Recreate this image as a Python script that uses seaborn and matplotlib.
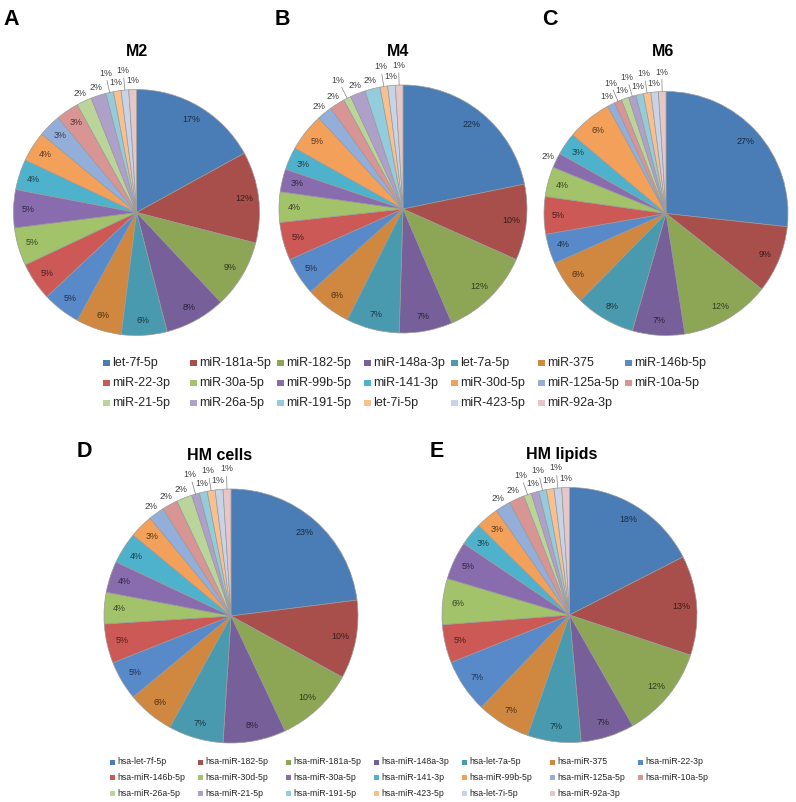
import numpy as np
import matplotlib.pyplot as plt
import seaborn as sns
from matplotlib.patches import Rectangle
from matplotlib.lines import Line2D

sns.set_theme(style='white')
plt.rcParams['font.family'] = ['Liberation Sans', 'DejaVu Sans']

# --- data (percent of reads) ---
mirs_top = ['let-7f-5p', 'miR-181a-5p', 'miR-182-5p', 'miR-148a-3p', 'let-7a-5p',
            'miR-375', 'miR-146b-5p', 'miR-22-3p', 'miR-30a-5p', 'miR-99b-5p',
            'miR-141-3p', 'miR-30d-5p', 'miR-125a-5p', 'miR-10a-5p', 'miR-21-5p',
            'miR-26a-5p', 'miR-191-5p', 'let-7i-5p', 'miR-423-5p', 'miR-92a-3p']
m2 = [17, 12, 9, 8, 6, 6, 5, 5, 5, 5, 4, 4, 3, 3, 2, 2, 1, 1, 1, 1]
m4 = [22, 10, 12, 7, 7, 6, 5, 5, 4, 3, 3, 5, 2, 2, 1, 2, 2, 1, 1, 1]
m6 = [27, 9, 12, 7, 8, 6, 4, 5, 4, 2, 3, 6, 1, 1, 1, 1, 1, 1, 1, 1]

mirs_hm = ['hsa-let-7f-5p', 'hsa-miR-182-5p', 'hsa-miR-181a-5p', 'hsa-miR-148a-3p',
           'hsa-let-7a-5p', 'hsa-miR-375', 'hsa-miR-22-3p', 'hsa-miR-146b-5p',
           'hsa-miR-30d-5p', 'hsa-miR-30a-5p', 'hsa-miR-141-3p', 'hsa-miR-99b-5p',
           'hsa-miR-125a-5p', 'hsa-miR-10a-5p', 'hsa-miR-26a-5p', 'hsa-miR-21-5p',
           'hsa-miR-191-5p', 'hsa-miR-423-5p', 'hsa-let-7i-5p', 'hsa-miR-92a-3p']
hm_cells = [23, 10, 10, 8, 7, 6, 5, 5, 4, 4, 4, 3, 2, 2, 2, 1, 1, 1, 1, 1]
hm_lipids = [18, 13, 12, 7, 7, 7, 7, 5, 6, 5, 3, 3, 2, 2, 1, 1, 1, 1, 1, 1]

palette = sns.color_palette(['#4A7CB6', '#A84E4B', '#8DA655', '#77609A', '#4A9AAF',
                             '#D0873F', '#588ACA', '#CD5956', '#A2C36A', '#886CAE',
                             '#4FB2CC', '#F2A05A', '#94AEDA', '#D99593', '#BBD49A',
                             '#AEA0C8', '#93CCDC', '#F9C08F', '#C6D3E8', '#E6C6C6'])

W, H = 796, 802
fig = plt.figure(figsize=(W / 100, H / 100), dpi=100)
fig.patch.set_facecolor('white')


def draw_pie(values, cx, cy, r, title, tx, ty, letter, lx, ly):
    pad = 1.35
    R = r * pad
    ax = fig.add_axes([(cx - R) / W, 1 - (cy + R) / H, 2 * R / W, 2 * R / H])
    ax.pie(values, colors=palette, startangle=90, counterclock=False,
           wedgeprops=dict(edgecolor='#9a9a9a', linewidth=0.5))
    ax.set_xlim(-pad, pad)
    ax.set_ylim(-pad, pad)
    ax.set_aspect('equal')
    ax.axis('off')

    total = float(sum(values))
    cum = np.cumsum([0] + list(values[:-1]))
    last = {0: -1e9, 1: -1e9}
    radii = {0: 1.07, 1: 1.16}
    sep = 6.0
    for v, c0, col in zip(values, cum, palette):
        mid = (c0 + v / 2) / total * 360
        if v >= 3:
            t = np.deg2rad(90 - mid)
            dark = tuple(0.35 * c for c in col)
            ax.text(0.88 * np.cos(t), 0.88 * np.sin(t), f'{v}%', ha='center',
                    va='center', fontsize=6.4, color=dark)
            continue
        if mid - last[0] >= sep:
            lev, ang = 0, mid
        elif mid - last[1] >= sep:
            lev, ang = 1, mid
        else:
            lev, ang = 0, last[0] + sep
        last[lev] = ang
        t = np.deg2rad(90 - ang)
        rr = radii[lev]
        ax.text(rr * np.cos(t), rr * np.sin(t), f'{v}%', ha='center', va='center',
                fontsize=6.4, color='#404040')
        if lev == 1 or abs(ang - mid) > 1:
            t0 = np.deg2rad(90 - mid)
            ax.add_line(Line2D([np.cos(t0), (rr - 0.06) * np.cos(t)],
                               [np.sin(t0), (rr - 0.06) * np.sin(t)],
                               color='#7f7f7f', lw=0.5))

    fig.text(tx / W, 1 - ty / H, title, ha='center', va='center',
             fontsize=11.5, fontweight='bold', color='black')
    fig.text(lx / W, 1 - ly / H, letter, ha='left', va='baseline',
             fontsize=15.5, fontweight='bold', color='black')


def draw_legend(names, x0, y0, dx, dy, size, fs):
    for i, name in enumerate(names):
        row, col = divmod(i, 7)
        x = x0 + col * dx
        y = y0 + row * dy
        fig.add_artist(Rectangle((x / W, 1 - (y + size / 2) / H), size / W, size / H,
                                 transform=fig.transFigure, facecolor=palette[i],
                                 edgecolor='none'))
        fig.text((x + size + 2.5) / W, 1 - y / H, name, ha='left', va='center',
                 fontsize=fs, color='#262626')


draw_pie(m2, 136.5, 212.5, 123, 'M2', 137, 52, 'A', 3, 25)
draw_pie(m4, 403, 209, 124, 'M4', 398, 52, 'B', 275, 25)
draw_pie(m6, 666, 213.5, 122, 'M6', 663, 52, 'C', 542, 25)
draw_pie(hm_cells, 231, 616, 127, 'HM cells', 220, 455, 'D', 77, 457)
draw_pie(hm_lipids, 569.5, 615, 127.5, 'HM lipids', 562, 455, 'E', 430, 457)

draw_legend(mirs_top, 103, 363, 87, 20, 6.5, 9)
draw_legend(mirs_hm, 110, 762, 88, 15.7, 5, 6.3)

fig.savefig('out.png', dpi=100, facecolor='white')
